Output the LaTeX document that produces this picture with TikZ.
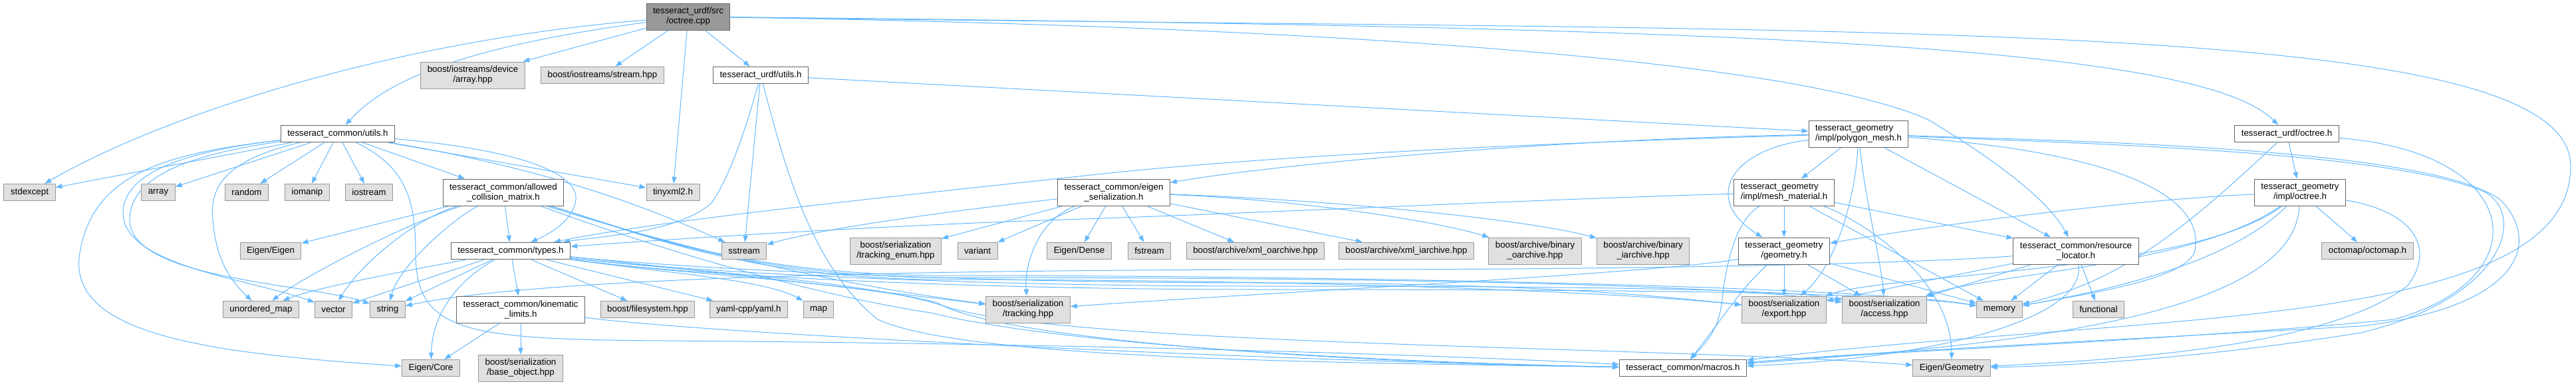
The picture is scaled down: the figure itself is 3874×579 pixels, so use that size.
\documentclass[tikz,border=0pt]{standalone}
\usepackage{fontspec}
\setmainfont{Liberation Sans}
\usetikzlibrary{arrows.meta}
\definecolor{edgeblue}{HTML}{63B8FF}
\definecolor{boxgray}{HTML}{E0E0E0}
\definecolor{rimgray}{HTML}{999999}
\definecolor{rimdark}{HTML}{666666}
\pgfdeclarelayer{edges}
\pgfsetlayers{edges,main}
\begin{document}
\begin{tikzpicture} [x = 0.75pt, y = -0.75pt,
	hdr/.style = {draw = rimdark, fill = white, line width = 0.75pt, inner xsep = 7.5pt, inner ysep = 2pt, minimum height = 19pt, align = center, font = \fontsize{10}{11.25}\selectfont},
	sys/.style = {hdr, draw = rimgray, fill = boxgray},
	root/.style = {hdr, fill = rimgray},
	two/.style = {minimum height = 30pt},
	dep/.style = {draw = edgeblue, line width = 0.75pt, -{Triangle[length = 7.5pt, width = 5.5pt]}}]
	\useasboundingbox (0,0) rectangle (3874,579);
	% row 1 and 2
	\node [root, two] (cpp) at (1035,25) {tesseract\_urdf/src\\/octree.cpp};
	\node [sys, two] (devarray) at (711,113) {boost/iostreams/device\\/array.hpp};
	\node [sys] (streamhpp) at (906,113) {boost/iostreams/stream.hpp};
	\node [hdr] (uutils) at (1144,113) {tesseract\_urdf/utils.h};
	% row 3
	\node [hdr] (cutils) at (508,201) {tesseract\_common/utils.h};
	\node [hdr, two, align = left] (pmesh) at (2795,201) {tesseract\_geometry\\/impl/polygon\_mesh.h};
	\node [hdr] (uoctree) at (3439,201) {tesseract\_urdf/octree.h};
	% row 4
	\node [sys] (stdexc) at (44.5,289) {stdexcept};
	\node [sys] (arr) at (238,289) {array};
	\node [sys] (rnd) at (371,289) {random};
	\node [sys] (ioman) at (462,289) {iomanip};
	\node [sys] (iostr) at (555,289) {iostream};
	\node [hdr, two] (acm) at (757,289) {tesseract\_common/allowed\\\_collision\_matrix.h};
	\node [sys] (tinyxml) at (1012,289) {tinyxml2.h};
	\node [hdr, two] (eser) at (1675,289) {tesseract\_common/eigen\\\_serialization.h};
	\node [hdr, two, align = left] (mmat) at (2683,289) {tesseract\_geometry\\/impl/mesh\_material.h};
	\node [hdr, two] (goctree) at (3459,289) {tesseract\_geometry\\/impl/octree.h};
	% row 5
	\node [sys] (eigeig) at (407,377) {Eigen/Eigen};
	\node [hdr] (types) at (768,377) {tesseract\_common/types.h};
	\node [sys] (sstr) at (1119,377) {sstream};
	\node [sys, two] (trkenum) at (1347,377) {boost/serialization\\/tracking\_enum.hpp};
	\node [sys] (variant) at (1470,377) {variant};
	\node [sys] (eigdense) at (1623,377) {Eigen/Dense};
	\node [sys] (fstr) at (1728.5,377) {fstream};
	\node [sys] (xmlo) at (1888,377) {boost/archive/xml\_oarchive.hpp};
	\node [sys] (xmli) at (2115,377) {boost/archive/xml\_iarchive.hpp};
	\node [sys, two] (bino) at (2308.5,377) {boost/archive/binary\\\_oarchive.hpp};
	\node [sys, two] (bini) at (2471,377) {boost/archive/binary\\\_iarchive.hpp};
	\node [hdr, two] (geom) at (2683,377) {tesseract\_geometry\\/geometry.h};
	\node [hdr, two] (resloc) at (3122,377) {tesseract\_common/resource\\\_locator.h};
	\node [sys] (octomap) at (3560.5,377) {octomap/octomap.h};
	% row 6
	\node [sys] (umap) at (392.5,465) {unordered\_map};
	\node [sys] (vec) at (501.5,465) {vector};
	\node [sys] (str) at (583,465) {string};
	\node [hdr, two] (kinlim) at (783,465) {tesseract\_common/kinematic\\\_limits.h};
	\node [sys] (fsys) at (974,465) {boost/filesystem.hpp};
	\node [sys] (yaml) at (1126,465) {yaml-cpp/yaml.h};
	\node [sys] (map) at (1231,465) {map};
	\node [sys, two] (trk) at (1546,465) {boost/serialization\\/tracking.hpp};
	\node [sys, two] (export) at (2683,465) {boost/serialization\\/export.hpp};
	\node [sys, two] (access) at (2834,465) {boost/serialization\\/access.hpp};
	\node [sys] (memory) at (3007,465) {memory};
	\node [sys] (functional) at (3156,465) {functional};
	% row 7
	\node [sys] (eigcore) at (648,553) {Eigen/Core};
	\node [sys, two] (baseobj) at (783,553) {boost/serialization\\/base\_object.hpp};
	\node [hdr] (macros) at (2531,553) {tesseract\_common/macros.h};
	\node [sys] (eiggeom) at (2935,553) {Eigen/Geometry};
	\begin{pgfonlayer}{edges}
	% octree.cpp
	\draw [dep] (cpp) .. controls (600,60) and (250,170) .. (stdexc);
	\draw [dep] (cpp) .. controls (700,70) and (580,120) .. (cutils);
	\draw [dep] (cpp) -- (devarray);
	\draw [dep] (cpp) -- (streamhpp);
	\draw [dep] (cpp) -- (tinyxml);
	\draw [dep] (cpp) -- (uutils);
	\draw [dep] (cpp) .. controls (2500,40) and (3300,60) .. (uoctree);
	\draw [dep] (cpp) .. controls (2000,40) and (2700,90) .. (2900,180) .. controls (3000,240) and (3080,300) .. (resloc);
	\draw [dep] (cpp) .. controls (2800,50) and (3866,20) .. (3866,250) .. controls (3866,500) and (3200,470) .. (macros);
	% tesseract_urdf/utils.h
	\draw [dep] (uutils) -- (pmesh);
	\draw [dep] (uutils) .. controls (1120,200) and (1095,270) .. (1070,305) .. controls (1020,350) and (900,355) .. (types);
	\draw [dep] (uutils) -- (sstr);
	\draw [dep] (uutils) .. controls (1180,250) and (1220,400) .. (1320,480) .. controls (1450,540) and (2000,545) .. (macros);
	% tesseract_common/utils.h
	\draw [dep] (cutils) -- (stdexc);
	\draw [dep] (cutils) -- (arr);
	\draw [dep] (cutils) -- (rnd);
	\draw [dep] (cutils) -- (ioman);
	\draw [dep] (cutils) -- (iostr);
	\draw [dep] (cutils) -- (acm);
	\draw [dep] (cutils) -- (tinyxml);
	\draw [dep] (cutils) .. controls (780,225) and (870,260) .. (866,300) .. controls (862,330) and (830,350) .. (types);
	\draw [dep] (cutils) .. controls (800,250) and (950,300) .. (sstr);
	\draw [dep] (cutils) .. controls (250,230) and (140,260) .. (120,380) .. controls (100,500) and (300,530) .. (eigcore);
	\draw [dep] (cutils) .. controls (250,230) and (185,270) .. (185,320) .. controls (185,400) and (380,420) .. (vec);
	\draw [dep] (cutils) .. controls (260,235) and (195,275) .. (195,330) .. controls (195,420) and (460,425) .. (str);
	\draw [dep] (cutils) .. controls (340,240) and (315,280) .. (320,330) .. controls (325,390) and (345,420) .. (umap);
	\draw [dep] (cutils) .. controls (610,250) and (625,300) .. (625,380) .. controls (625,500) and (700,510) .. (1000,512) .. controls (1800,518) and (2300,540) .. (macros);
	% allowed_collision_matrix.h
	\draw [dep] (acm) -- (types);
	\draw [dep] (acm) -- (eigeig);
	\draw [dep] (acm) .. controls (600,340) and (450,420) .. (umap);
	\draw [dep] (acm) .. controls (620,330) and (540,400) .. (vec);
	\draw [dep] (acm) .. controls (680,330) and (600,400) .. (str);
	\draw [dep] (acm) .. controls (950,350) and (1200,420) .. (trk);
	\draw [dep] (acm) .. controls (950,345) and (1100,415) .. (1400,420) .. controls (2000,420) and (2450,440) .. (export);
	\draw [dep] (acm) .. controls (950,345) and (1100,412) .. (1400,417) .. controls (2000,417) and (2600,425) .. (access);
	\draw [dep] (acm) .. controls (950,345) and (1100,410) .. (1400,414) .. controls (2000,414) and (2800,430) .. (memory);
	\draw [dep] (acm) .. controls (950,360) and (1200,440) .. (1400,470) .. controls (1600,520) and (2100,545) .. (macros);
	% types.h
	\draw [dep] (types) .. controls (650,400) and (480,430) .. (umap);
	\draw [dep] (types) -- (vec);
	\draw [dep] (types) -- (str);
	\draw [dep] (types) .. controls (690,420) and (650,470) .. (eigcore);
	\draw [dep] (types) -- (kinlim);
	\draw [dep] (types) -- (fsys);
	\draw [dep] (types) -- (yaml);
	\draw [dep] (types) .. controls (1000,410) and (1150,420) .. (map);
	\draw [dep] (types) .. controls (1000,400) and (1300,435) .. (trk);
	\draw [dep] (types) .. controls (1000,400) and (1400,425) .. (1900,425) .. controls (2300,425) and (2500,445) .. (export);
	\draw [dep] (types) .. controls (1000,405) and (1400,430) .. (1900,430) .. controls (2400,430) and (2700,435) .. (access);
	\draw [dep] (types) .. controls (1000,410) and (1400,435) .. (1900,435) .. controls (2500,435) and (2850,440) .. (memory);
	\draw [dep] (types) .. controls (1000,405) and (1300,420) .. (1420,460) .. controls (1600,520) and (2500,520) .. (eiggeom);
	\draw [dep] (types) .. controls (1000,410) and (1300,425) .. (1410,455) .. controls (1500,510) and (2000,545) .. (macros);
	% kinematic_limits.h
	\draw [dep] (kinlim) -- (eigcore);
	\draw [dep] (kinlim) -- (baseobj);
	\draw [dep] (kinlim) .. controls (1100,505) and (2000,545) .. (macros);
	% eigen_serialization.h
	\draw [dep] (eser) -- (trkenum);
	\draw [dep] (eser) -- (variant);
	\draw [dep] (eser) -- (eigdense);
	\draw [dep] (eser) -- (fstr);
	\draw [dep] (eser) -- (xmlo);
	\draw [dep] (eser) -- (xmli);
	\draw [dep] (eser) .. controls (1950,300) and (2150,330) .. (bino);
	\draw [dep] (eser) .. controls (2000,300) and (2300,330) .. (bini);
	\draw [dep] (eser) .. controls (1560,330) and (1540,400) .. (trk);
	\draw [dep] (eser) .. controls (1450,315) and (1250,340) .. (sstr);
	% polygon_mesh.h
	\draw [dep] (pmesh) .. controls (2300,210) and (1900,250) .. (eser);
	\draw [dep] (pmesh) .. controls (2300,215) and (1900,235) .. (1650,262) .. controls (1300,300) and (1000,330) .. (types);
	\draw [dep] (pmesh) -- (mmat);
	\draw [dep] (pmesh) .. controls (2600,225) and (2560,300) .. (geom);
	\draw [dep] (pmesh) .. controls (2790,300) and (2760,400) .. (export);
	\draw [dep] (pmesh) .. controls (2805,300) and (2830,400) .. (access);
	\draw [dep] (pmesh) -- (resloc);
	\draw [dep] (pmesh) .. controls (3200,230) and (3320,300) .. (3300,380) .. controls (3280,420) and (3150,440) .. (memory);
	\draw [dep] (pmesh) .. controls (3100,215) and (3600,225) .. (3740,290) .. controls (3800,330) and (3760,450) .. (3550,500) .. controls (3300,540) and (3100,550) .. (eiggeom);
	\draw [dep] (pmesh) .. controls (3100,212) and (3650,220) .. (3760,300) .. controls (3820,360) and (3800,460) .. (3550,490) .. controls (3100,515) and (2800,530) .. (macros);
	% mesh_material.h
	\draw [dep] (mmat) .. controls (2300,300) and (1900,320) .. (1600,330) .. controls (1300,340) and (1000,360) .. (types);
	\draw [dep] (mmat) -- (geom);
	\draw [dep] (mmat) .. controls (2800,330) and (2935,420) .. (eiggeom);
	\draw [dep] (mmat) -- (memory);
	\draw [dep] (mmat) -- (resloc);
	\draw [dep] (mmat) .. controls (2610,330) and (2595,400) .. (2590,450) .. controls (2585,500) and (2560,520) .. (macros);
	% geometry.h
	\draw [dep] (geom) -- (export);
	\draw [dep] (geom) -- (access);
	\draw [dep] (geom) -- (memory);
	\draw [dep] (geom) .. controls (2500,410) and (1900,440) .. (trk);
	\draw [dep] (geom) .. controls (2620,430) and (2590,480) .. (macros);
	% resource_locator.h
	\draw [dep] (resloc) -- (memory);
	\draw [dep] (resloc) -- (functional);
	\draw [dep] (resloc) -- (access);
	\draw [dep] (resloc) -- (export);
	\draw [dep] (resloc) .. controls (2900,395) and (2500,405) .. (2000,405) .. controls (1300,405) and (800,420) .. (str);
	\draw [dep] (resloc) .. controls (3140,480) and (2900,540) .. (macros);
	% impl/octree.h
	\draw [dep] (goctree) -- (octomap);
	\draw [dep] (goctree) .. controls (3200,300) and (2900,340) .. (geom);
	\draw [dep] (goctree) .. controls (3350,400) and (3150,440) .. (memory);
	\draw [dep] (goctree) .. controls (3300,410) and (2850,410) .. (export);
	\draw [dep] (goctree) .. controls (3300,400) and (3000,410) .. (access);
	\draw [dep] (goctree) .. controls (3640,320) and (3660,380) .. (3620,430) .. controls (3500,520) and (3200,540) .. (eiggeom);
	\draw [dep] (goctree) .. controls (3450,480) and (3000,520) .. (macros);
	% tesseract_urdf/octree.h
	\draw [dep] (uoctree) -- (goctree);
	\draw [dep] (uoctree) .. controls (3300,330) and (3200,420) .. (memory);
	\draw [dep] (uoctree) .. controls (3800,230) and (3820,420) .. (3600,480) .. controls (3300,510) and (2800,530) .. (macros);
	\end{pgfonlayer}
\end{tikzpicture}
\end{document}
